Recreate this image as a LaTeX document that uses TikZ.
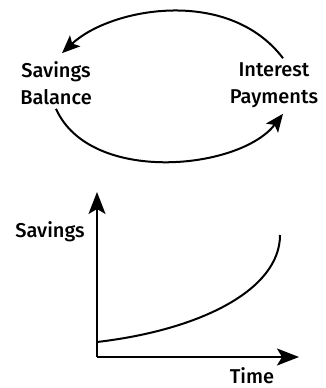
\documentclass[tikz,border=0pt]{standalone}
\usepackage{fontspec}
\setmainfont{Fira Sans Medium}
\usetikzlibrary{arrows.meta}
\tikzset{
    lbl/.style={align=center, inner sep=0pt, font=\fontsize{20}{27}\selectfont},
    loopline/.style={line width=2pt, -{Stealth[length=18pt,width=15pt,inset=4pt]}},
    axisline/.style={line width=2pt, -{Stealth[length=22pt,width=17pt,inset=5pt]}}
}

\begin{document}
\begin{tikzpicture}[x=1pt,y=-1pt]
    \useasboundingbox (0,0) rectangle (326,388);
    \node[lbl] (bal) at (56,83) {Savings\\Balance};
    \node[lbl] (int) at (274,85) {Interest\\Payments};
    \draw[loopline] ([xshift=9pt,yshift=4pt]int.north) .. controls (228,-14) and (110,8) .. ([xshift=6pt,yshift=8pt]bal.north);
    \draw[loopline] ([yshift=-4pt]bal.south) .. controls (90,185) and (240,170) .. ([xshift=9pt,yshift=-6pt]int.south);
    \coordinate (o) at (97,357);
    \coordinate (ytip) at (97,192);
    \coordinate (xtip) at (299,357);
    \draw[axisline] (o) -- (ytip);
    \draw[axisline] (o) -- (xtip);
    \node[lbl] (sav) at (50,232) {Savings};
    \node[lbl] (time) at (252,376) {Time};
    \coordinate (c0) at (97,342);
    \coordinate (c1) at (280,235);
    \draw[line width=2pt] (c0) .. controls (200,330) and (280,290) .. (c1);
\end{tikzpicture}
\end{document}
